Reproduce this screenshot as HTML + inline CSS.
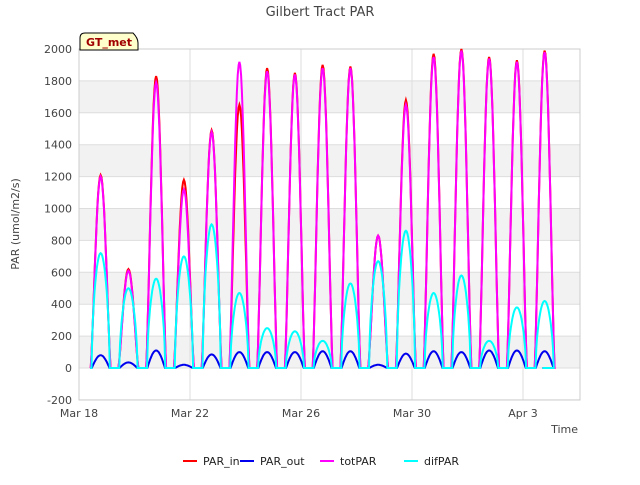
<!DOCTYPE html>
<html><head><meta charset="utf-8"><style>
body{margin:0;background:#fff;font-family:"Liberation Sans","DejaVu Sans",sans-serif}
</style></head><body>
<svg id="chart" width="640" height="480" xmlns="http://www.w3.org/2000/svg" font-family="DejaVu Sans, Liberation Sans, sans-serif">
<rect width="640" height="480" fill="#fff"/>
<text x="320" y="16" text-anchor="middle" font-size="13" fill="#444">Gilbert Tract PAR</text>
<g id="bands"></g>
<g id="grid"></g>
<rect x="79" y="49" width="501" height="351" fill="none" stroke="#ccc"/>
<g id="yticks" font-size="11" fill="#444"></g>
<g id="xticks" font-size="11" fill="#444"></g>
<g id="series"></g>
<text x="19" y="224" transform="rotate(-90 19 224)" text-anchor="middle" font-size="11" fill="#444">PAR (umol/m2/s)</text>
<text x="578" y="433" text-anchor="end" font-size="11" fill="#444">Time</text>
<g>
<path d="M80,50 L80,38 Q80,33 85,33 L133,33 Q138,38 138,43 L138,50 Z" fill="#ffffcc" stroke="#000"/>
<text x="109" y="46" text-anchor="middle" font-size="11" font-weight="bold" fill="#a00000">GT_met</text>
</g>
<g id="legend" font-size="11" fill="#222"></g>
</svg>
<script>
const dayLabels=["Mar 18","Mar 22","Mar 26","Mar 30","Apr 3"];
const dayLabelIdx=[0,4,8,12,16];
const yTicks=[-200,0,200,400,600,800,1000,1200,1400,1600,1800,2000];
const days=[0,1,2,3,4,5,6,7,8,9,10,11,12,13,14,15,16];
const parIn=[1210,620,1830,1180,1490,1650,1880,1850,1900,1890,830,1680,1970,2000,1950,1930,1990];
const parOut=[80,35,110,20,85,100,100,100,105,105,20,90,105,100,110,110,105];
const totPAR=[1200,610,1790,1120,1480,1920,1860,1840,1880,1880,830,1650,1950,1990,1940,1920,1980];
const difPAR=[720,500,560,700,900,470,250,230,170,530,670,860,470,580,170,380,420];
const X=d=>79+d*27.75;
const Y=v=>368-v*(319/2000);
const NS="http://www.w3.org/2000/svg";
function mk(tag,attrs,parent){const e=document.createElementNS(NS,tag);for(const k in attrs)e.setAttribute(k,attrs[k]);parent.appendChild(e);return e;}
const bands=document.getElementById('bands'),grid=document.getElementById('grid');
for(let v=0;v<2000;v+=400){
 const r=mk('rect',{x:79,y:Y(v+200),width:501,height:Y(v)-Y(v+200),fill:'#f2f2f2'},bands);
 
 
}
const yt=document.getElementById('yticks');
yTicks.forEach(v=>{
 const l=mk('line',{x1:79,x2:580,y1:Y(v),y2:Y(v),stroke:'#ddd'},grid);
 
 
 const t=mk('text',{x:72,y:Y(v)+4,'text-anchor':'end'},yt);t.textContent=v;
 
 
});
const xt=document.getElementById('xticks');
dayLabels.forEach((s,i)=>{
 const x=X(dayLabelIdx[i]);
 const l=mk('line',{x1:x,x2:x,y1:49,y2:400,stroke:'#ddd'},grid);
 
 
 const t=mk('text',{x:x,y:417,'text-anchor':'middle'},xt);t.textContent=s;
 
 
});
function series(vals,pow,hw){
 let pts=[[X(0.4),Y(0)]];
 days.forEach((d,i)=>{
  const c=d+0.78,s=c-hw,e=c+hw;
  pts.push([X(s),Y(0)]);
  for(let k=1;k<24;k++){const t=k/24;pts.push([X(s+t*2*hw),Y(vals[i]*Math.pow(Math.sin(Math.PI*t),pow))]);}
  pts.push([X(e),Y(0)]);
 });
 pts.push([X(16.7),Y(0)]);
 return pts.map((p,i)=>(i?'L':'M')+p[0].toFixed(1)+','+p[1].toFixed(1)).join('');
}
const sg=document.getElementById('series');
const defs=[['par-in-line',parIn,'#ff0000',1.3,0.36],['par-out-line',parOut,'#0000ee',1.0,0.32],['tot-par-line',totPAR,'#ff00ff',1.3,0.36],['dif-par-line',difPAR,'#00ffff',0.6,0.33]];
defs.forEach(([n,v,c,p,hw])=>{
 const e=mk('path',{d:series(v,p,hw),fill:'none',stroke:c,'stroke-width':2},sg);
 
 
});
const lg=document.getElementById('legend');
[['PAR_in','#ff0000',183],['PAR_out','#0000ee',240],['totPAR','#ff00ff',320],['difPAR','#00ffff',404]].forEach(([s,c,x])=>{
 const g=mk('g',{},lg);
 
 
 mk('line',{x1:x,x2:x+14,y1:461,y2:461,stroke:c,'stroke-width':2},g);
 const t=mk('text',{x:x+20,y:465},g);t.textContent=s;
});
</script>
</body></html>
